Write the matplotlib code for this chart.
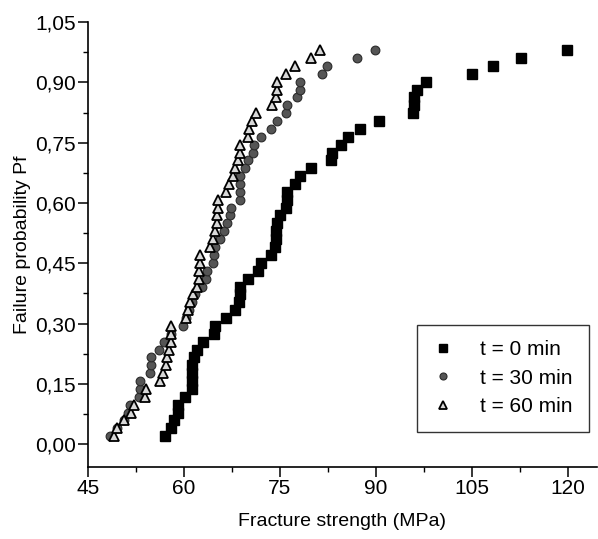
import matplotlib
matplotlib.use("Agg")
import matplotlib.pyplot as plt
from matplotlib.ticker import MultipleLocator, FuncFormatter

plt.rcParams['font.family'] = ['Liberation Sans', 'DejaVu Sans']

# t = 0 min
x0 = [57.0, 58.0, 58.5, 59.0, 59.1, 60.1, 61.2, 61.2, 61.2, 61.3,
      61.6, 62.0, 63.0, 64.7, 64.9, 66.6, 68.0, 68.6, 68.7, 68.8,
      70.0, 71.5, 72.1, 73.6, 74.3, 74.4, 74.4, 74.5, 75.0, 76.0,
      76.1, 76.1, 77.4, 78.2, 79.8, 83.0, 83.1, 84.6, 85.7, 87.5,
      90.4, 95.8, 95.9, 96.0, 96.4, 97.8, 105.0, 108.3, 112.6, 119.9]
# t = 30 min
x30 = [48.5, 49.6, 50.6, 51.2, 51.6, 53.0, 53.1, 53.2, 54.7, 54.8,
       54.9, 56.1, 56.9, 58.0, 59.8, 60.4, 60.8, 61.2, 61.8, 62.8,
       63.4, 63.6, 64.6, 64.7, 64.8, 65.6, 66.2, 66.8, 67.2, 67.4,
       68.7, 68.7, 68.8, 68.8, 69.6, 70.0, 70.8, 70.9, 72.1, 73.6,
       74.5, 76.0, 76.1, 77.7, 78.1, 78.2, 81.5, 82.3, 87.0, 89.9]
# t = 60 min
x60 = [49.1, 49.6, 50.6, 51.8, 52.2, 53.9, 54.0, 56.2, 56.8, 57.2,
       57.4, 57.7, 58.0, 58.0, 58.0, 60.3, 60.6, 61.0, 61.4, 62.0,
       62.4, 62.4, 62.5, 62.5, 64.0, 64.6, 64.9, 65.1, 65.2, 65.3,
       65.4, 66.6, 67.1, 67.6, 68.0, 68.4, 68.7, 68.8, 70.0, 70.1,
       70.6, 71.3, 73.8, 74.4, 74.5, 74.5, 76.0, 77.4, 79.8, 81.3]
# failure probability, same ranks for all three series
pf = [0.020, 0.039, 0.059, 0.078, 0.098, 0.118, 0.137, 0.157, 0.176, 0.196,
      0.216, 0.235, 0.255, 0.275, 0.294, 0.314, 0.333, 0.353, 0.373, 0.392,
      0.412, 0.431, 0.451, 0.471, 0.490, 0.510, 0.529, 0.549, 0.569, 0.588,
      0.608, 0.627, 0.647, 0.667, 0.686, 0.706, 0.725, 0.745, 0.765, 0.784,
      0.804, 0.824, 0.843, 0.863, 0.882, 0.902, 0.922, 0.941, 0.961, 0.980]
labels = ['t = 0 min', 't = 30 min', 't = 60 min']

fig = plt.figure(figsize=(5.98, 5.39), dpi=100)
ax = fig.add_axes([0.147, 0.1336, 0.851, 0.8254])

ax.plot(x0, pf, ls='none', marker='s', ms=6.5, mfc='black', mec='black', label=labels[0])
ax.plot(x30, pf, ls='none', marker='o', ms=6.3, mfc='#555555', mec='#2a2a2a', mew=0.8, label=labels[1])
ax.plot(x60, pf, ls='none', marker='^', ms=7.5, mfc='#d8d8d8', mec='black', mew=1.3, label=labels[2])

ax.set_xlim(45, 124.5)
ax.set_ylim(-0.057, 1.05)
ax.xaxis.set_major_locator(MultipleLocator(15))
ax.xaxis.set_minor_locator(MultipleLocator(7.5))
ax.yaxis.set_major_locator(MultipleLocator(0.15))
ax.yaxis.set_minor_locator(MultipleLocator(0.075))
ax.yaxis.set_major_formatter(FuncFormatter(lambda v, p: f"{v:.2f}".replace('.', ',')))

for s in ['top', 'right']:
    ax.spines[s].set_visible(False)
ax.spines['left'].set_linewidth(1.2)
ax.spines['bottom'].set_linewidth(1.2)
ax.tick_params(which='major', direction='out', length=7, width=1.1, labelsize=15, pad=1.5)
ax.tick_params(which='minor', direction='out', length=3.5, width=1.0)

ax.set_xlabel('Fracture strength (MPa)', fontsize=14, labelpad=11)
ax.set_ylabel('Failure probability Pf', fontsize=14, labelpad=3)

leg = ax.legend(loc='lower right', bbox_to_anchor=(0.992, 0.07), frameon=True, fancybox=False,
                edgecolor='black', fontsize=15, handlelength=1.0, handletextpad=1.3,
                borderpad=0.75, labelspacing=0.45, markerscale=0.8, borderaxespad=0.2)
leg.get_frame().set_linewidth(1.0)

fig.savefig('out.png', dpi=100)
